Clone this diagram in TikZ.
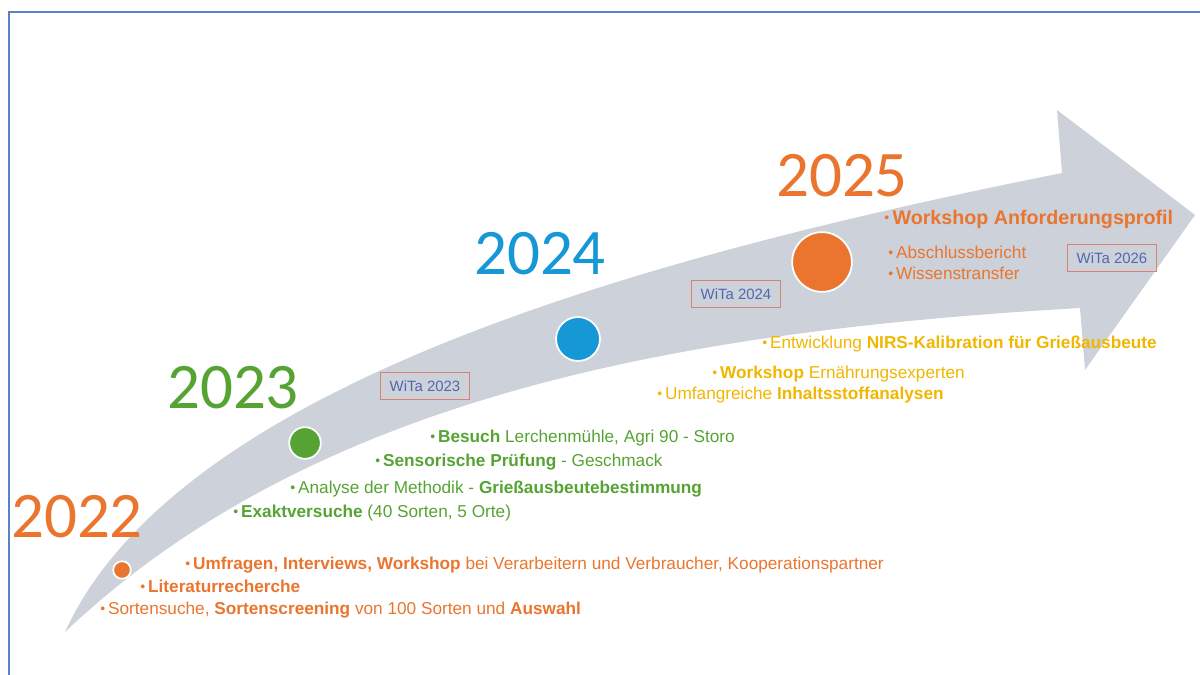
\documentclass[tikz,border=0pt]{standalone}
\usepackage{fontspec}
\setmainfont{Liberation Sans}
\newfontfamily\yearfont{Carlito}
\definecolor{arrowgrey}{RGB}{205,209,217}
\definecolor{orng}{RGB}{233,117,46}
\definecolor{grn}{RGB}{86,163,51}
\definecolor{blu}{RGB}{22,152,214}
\definecolor{gold}{RGB}{240,182,0}
\definecolor{frameblue}{RGB}{90,130,200}
\definecolor{boxred}{RGB}{215,130,110}
\definecolor{witablue}{RGB}{80,105,175}
\newcommand\bul{{\fontsize{8}{6}\selectfont\raisebox{.15ex}{•}}\,}
\begin{document}
\begin{tikzpicture}[x=0.02cm,y=-0.02cm,
  year/.style={font=\yearfont\fontsize{37}{37}\selectfont},
  dot/.style={circle,draw=white,line width=1pt,inner sep=0pt},
  item/.style={anchor=west,inner sep=0pt,font=\fontsize{9.8}{11}\selectfont},
  wita/.style={draw=boxred,text=witablue,font=\fontsize{8.5}{10}\selectfont,
    minimum width=51pt,minimum height=15.4pt,inner sep=0pt}]
\useasboundingbox (0,0) rectangle (1200,675);
% frame
\draw[frameblue,line width=1.2pt] (9,675)--(9,12)--(1200,12);
% arrow
\fill[arrowgrey] (65,632) .. controls (180,380) and (662,253) .. (1062,173)
  -- (1057,110) -- (1195,215) -- (1085,370) -- (1080,308)
  .. controls (700,330) and (320,390) .. (65,632) -- cycle;

% years and dots
\node[year,text=orng] (y22) at (77,517) {2022};
\node[year,text=grn] (y23) at (233,388) {2023};
\node[year,text=blu] (y24) at (540,254) {2024};
\node[year,text=orng] (y25) at (842,176) {2025};
\node[dot,fill=orng,minimum size=10pt] (d22) at (122,570) {};
\node[dot,fill=grn,minimum size=18pt] (d23) at (305,443) {};
\node[dot,fill=blu,minimum size=25pt] (d24) at (578,339) {};
\node[dot,fill=orng,minimum size=34pt] (d25) at (822,262) {};

% WiTa
\node[wita] (k23) at (425,386) {WiTa 2023};
\node[wita] (k24) at (736,294) {WiTa 2024};
\node[wita] (k26) at (1112,258) {WiTa 2026};

% 2022
\node[item,text=orng] (u22) at (185,565) {\bul\textbf{Umfragen, Interviews, Workshop} bei Verarbeitern und Verbraucher, Kooperationspartner};
\node[item,text=orng] (l22) at (140,586) {\bul\textbf{Literaturrecherche}};
\node[item,text=orng] (s22) at (100,610) {\bul Sortensuche, \textbf{Sortenscreening} von 100 Sorten und \textbf{Auswahl}};
% 2023
\node[item,text=grn] (b23) at (430,438) {\bul\textbf{Besuch} Lerchenmühle, Agri 90 - Storo};
\node[item,text=grn] (p23) at (375,462) {\bul\textbf{Sensorische Prüfung} - Geschmack};
\node[item,text=grn] (a23) at (290,489) {\bul Analyse der Methodik - \textbf{Grießausbeutebestimmung}};
\node[item,text=grn] (e23) at (233,513) {\bul\textbf{Exaktversuche} (40 Sorten, 5 Orte)};
% 2024
\node[item,text=gold] (n24) at (762,344) {\bul Entwicklung \textbf{NIRS-Kalibration für Grießausbeute}};
\node[item,text=gold] (w24) at (712,374) {\bul\textbf{Workshop} Ernährungsexperten};
\node[item,text=gold] (i24) at (657,395) {\bul Umfangreiche \textbf{Inhaltsstoffanalysen}};
% 2025
\node[item,text=orng,font=\fontsize{11.2}{12}\selectfont] (w25) at (884,219) {\bul\textbf{Workshop Anforderungsprofil}};
\node[item,text=orng] (a25) at (888,252) {\bul Abschlussbericht};
\node[item,text=orng] (t25) at (888,273) {\bul Wissenstransfer};
\end{tikzpicture}
\end{document}
